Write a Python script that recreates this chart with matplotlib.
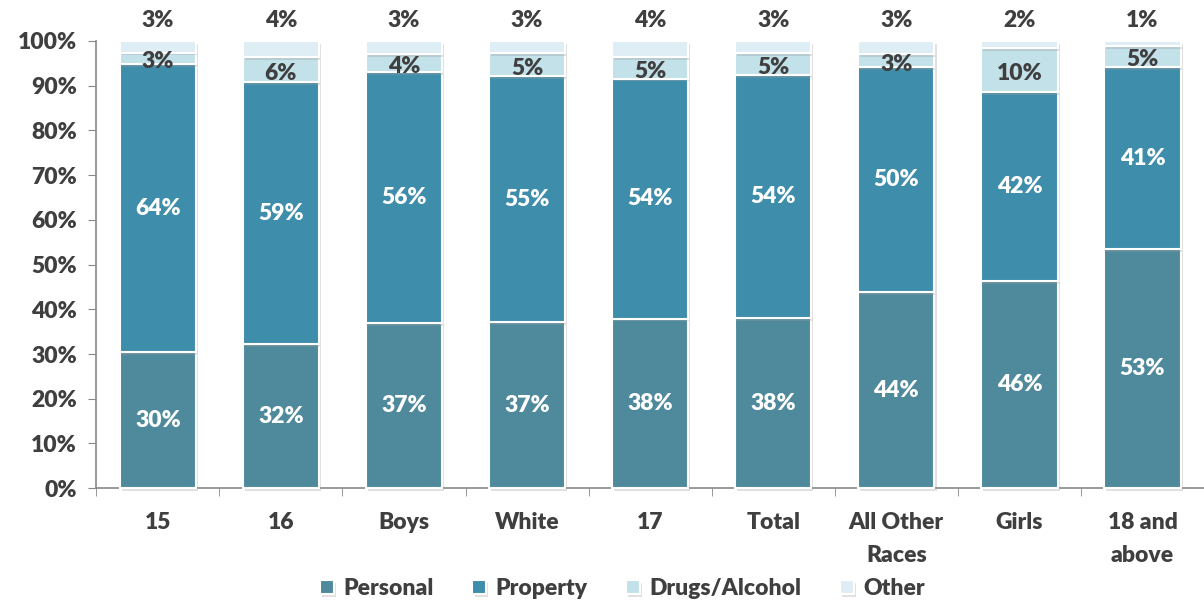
import numpy as np
import matplotlib.pyplot as plt
import matplotlib.patheffects as pe

plt.rcParams['font.family'] = ['Lato', 'DejaVu Sans']

categories = ['15', '16', 'Boys', 'White', '17', 'Total', 'All Other\nRaces', 'Girls', '18 and\nabove']
personal = [30.4, 32.2, 36.9, 37.1, 37.9, 38.0, 43.8, 46.3, 53.4]
property_ = [64.4, 58.6, 56.2, 55.1, 53.7, 54.4, 50.3, 42.3, 40.8]
drugs = [2.6, 5.6, 4.0, 5.0, 4.8, 4.8, 3.0, 9.8, 4.7]
other = [2.6, 3.6, 2.9, 2.8, 3.6, 2.8, 2.9, 1.6, 1.1]

series = [('Personal', personal, '#4F8A9C'),
          ('Property', property_, '#3E8DAA'),
          ('Drugs/Alcohol', drugs, '#C3E1E9'),
          ('Other', other, '#DEEEF4')]

txt = '#3F3F3F'
fs = 16.5
wt = 'heavy'
fig = plt.figure(figsize=(12.04, 6.02), dpi=100)
ax = fig.add_axes([0.08, 0.189, 0.92, 0.743])

x = np.arange(len(categories))
bottom = np.zeros(len(categories))
shadow = [pe.SimplePatchShadow(offset=(1.5, -2), shadow_rgbFace='#999999', alpha=0.3), pe.Normal()]
for name, vals, color in series:
    vals = np.array(vals)
    bars = ax.bar(x, vals, 0.62, bottom=bottom, color=color, edgecolor='white',
                  linewidth=1.5, label=name, clip_on=False, zorder=3)
    for b in bars:
        b.set_path_effects(shadow)
    for i, v in enumerate(vals):
        lab = f'{v:.0f}%'
        if name in ('Personal', 'Property'):
            ax.text(x[i], bottom[i] + v / 2, lab, ha='center', va='center', color='white',
                    fontsize=fs, fontweight=wt, zorder=5)
        elif name == 'Drugs/Alcohol':
            ax.text(x[i], bottom[i] + v / 2 - 0.8, lab, ha='center', va='center', color=txt,
                    fontsize=fs, fontweight=wt, zorder=5)
        else:
            ax.text(x[i], 104.5, lab, ha='center', va='center', color=txt,
                    fontsize=fs, fontweight=wt, zorder=5)
    bottom += vals

ax.set_xlim(-0.5, len(categories) - 0.5)
ax.set_ylim(0, 100)
ax.set_yticks(np.arange(0, 101, 10))
ax.set_yticklabels([f'{t}%' for t in range(0, 101, 10)])
ax.set_xticks(x)
ax.set_xticklabels(categories, linespacing=1.7)
ax.set_xticks(np.arange(-0.5, len(categories), 1), minor=True)
ax.tick_params(axis='x', which='major', length=0, pad=17, labelsize=fs, labelcolor=txt)
ax.tick_params(axis='x', which='minor', length=6, color='#888888')
ax.tick_params(axis='y', length=6, color='#888888', labelsize=fs, labelcolor=txt, pad=8)
for lbl in ax.get_xticklabels() + ax.get_yticklabels():
    lbl.set_fontweight(wt)
for s in ['top', 'right']:
    ax.spines[s].set_visible(False)
for s in ['left', 'bottom']:
    ax.spines[s].set_color('#888888')
    ax.spines[s].set_linewidth(1.2)

ax.legend(loc='upper center', bbox_to_anchor=(0.475, -0.155), ncol=4, frameon=False,
          handlelength=0.6, handleheight=0.6, handletextpad=0.4, columnspacing=1.7,
          prop={'size': fs, 'weight': wt}, labelcolor=txt)

fig.savefig('out.png', dpi=100)
